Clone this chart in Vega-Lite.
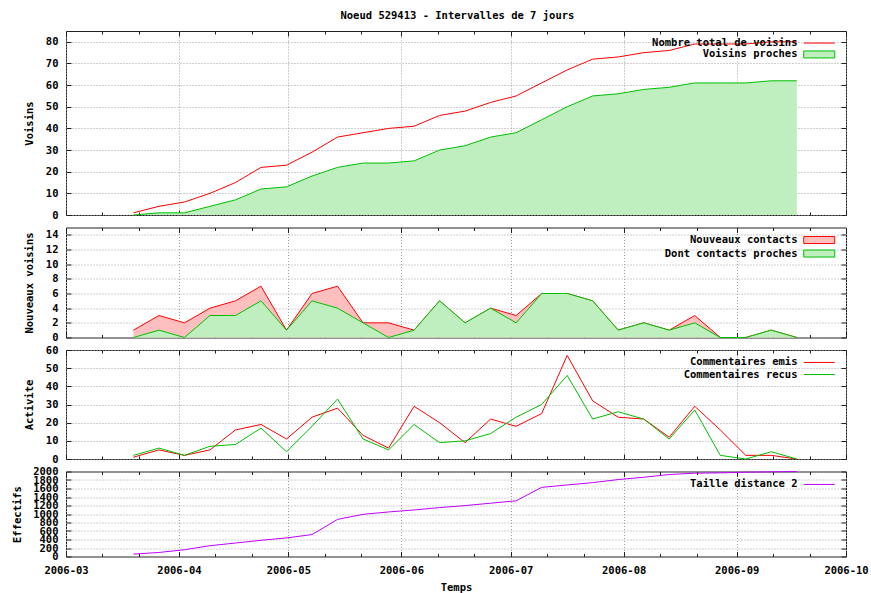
{
  "$schema": "https://vega.github.io/schema/vega-lite/v6.json",
  "padding": {"left": 12, "top": 10, "right": 24, "bottom": 0},
  "title": {"text": "Noeud 529413 - Intervalles de 7 jours", "font": "DejaVu Sans Mono", "fontSize": 10.5, "fontWeight": "bold", "color": "#000000", "anchor": "middle", "offset": 9, "dx": 17},
  "spacing": 12.5,
  "bounds": "flush",
  "resolve": {"scale": {"fill": "independent", "stroke": "independent", "y": "independent"}, "legend": {"fill": "independent", "stroke": "independent"}},
  "datasets": {
    "d": [
      {"d": "2006-03-19T12:00:00", "total": 1, "proches": 0, "nouv": 1, "nouvp": 0, "emis": 1, "recus": 2, "taille": 56},
      {"d": "2006-03-26T12:00:00", "total": 4, "proches": 1, "nouv": 3, "nouvp": 1, "emis": 5, "recus": 6, "taille": 95},
      {"d": "2006-04-02T12:00:00", "total": 6, "proches": 1, "nouv": 2, "nouvp": 0, "emis": 2, "recus": 2, "taille": 159},
      {"d": "2006-04-09T12:00:00", "total": 10, "proches": 4, "nouv": 4, "nouvp": 3, "emis": 5, "recus": 7, "taille": 254},
      {"d": "2006-04-16T12:00:00", "total": 15, "proches": 7, "nouv": 5, "nouvp": 3, "emis": 16, "recus": 8, "taille": 317},
      {"d": "2006-04-23T12:00:00", "total": 22, "proches": 12, "nouv": 7, "nouvp": 5, "emis": 19, "recus": 17, "taille": 381},
      {"d": "2006-04-30T12:00:00", "total": 23, "proches": 13, "nouv": 1, "nouvp": 1, "emis": 11, "recus": 4, "taille": 437},
      {"d": "2006-05-07T12:00:00", "total": 29, "proches": 18, "nouv": 6, "nouvp": 5, "emis": 23, "recus": 18, "taille": 516},
      {"d": "2006-05-14T12:00:00", "total": 36, "proches": 22, "nouv": 7, "nouvp": 4, "emis": 28, "recus": 33, "taille": 873},
      {"d": "2006-05-21T12:00:00", "total": 38, "proches": 24, "nouv": 2, "nouvp": 2, "emis": 13, "recus": 11, "taille": 992},
      {"d": "2006-05-28T12:00:00", "total": 40, "proches": 24, "nouv": 2, "nouvp": 0, "emis": 6, "recus": 5, "taille": 1048},
      {"d": "2006-06-04T12:00:00", "total": 41, "proches": 25, "nouv": 1, "nouvp": 1, "emis": 29, "recus": 19, "taille": 1095},
      {"d": "2006-06-11T12:00:00", "total": 46, "proches": 30, "nouv": 5, "nouvp": 5, "emis": 20, "recus": 9, "taille": 1151},
      {"d": "2006-06-18T12:00:00", "total": 48, "proches": 32, "nouv": 2, "nouvp": 2, "emis": 9, "recus": 10, "taille": 1198},
      {"d": "2006-06-25T12:00:00", "total": 52, "proches": 36, "nouv": 4, "nouvp": 4, "emis": 22, "recus": 14, "taille": 1254},
      {"d": "2006-07-02T12:00:00", "total": 55, "proches": 38, "nouv": 3, "nouvp": 2, "emis": 18, "recus": 23, "taille": 1310},
      {"d": "2006-07-09T12:00:00", "total": 61, "proches": 44, "nouv": 6, "nouvp": 6, "emis": 25, "recus": 30, "taille": 1627},
      {"d": "2006-07-16T12:00:00", "total": 67, "proches": 50, "nouv": 6, "nouvp": 6, "emis": 57, "recus": 46, "taille": 1683},
      {"d": "2006-07-23T12:00:00", "total": 72, "proches": 55, "nouv": 5, "nouvp": 5, "emis": 32, "recus": 22, "taille": 1738},
      {"d": "2006-07-30T12:00:00", "total": 73, "proches": 56, "nouv": 1, "nouvp": 1, "emis": 23, "recus": 26, "taille": 1810},
      {"d": "2006-08-06T12:00:00", "total": 75, "proches": 58, "nouv": 2, "nouvp": 2, "emis": 22, "recus": 22, "taille": 1865},
      {"d": "2006-08-13T12:00:00", "total": 76, "proches": 59, "nouv": 1, "nouvp": 1, "emis": 12, "recus": 11, "taille": 1929},
      {"d": "2006-08-20T12:00:00", "total": 79, "proches": 61, "nouv": 3, "nouvp": 2, "emis": 29, "recus": 27, "taille": 1960},
      {"d": "2006-08-27T12:00:00", "total": 79, "proches": 61, "nouv": 0, "nouvp": 0, "emis": 16, "recus": 2, "taille": 1968},
      {"d": "2006-09-03T12:00:00", "total": 79, "proches": 61, "nouv": 0, "nouvp": 0, "emis": 2, "recus": 0, "taille": 1984},
      {"d": "2006-09-10T12:00:00", "total": 80, "proches": 62, "nouv": 1, "nouvp": 1, "emis": 2, "recus": 4, "taille": 1992},
      {"d": "2006-09-17T12:00:00", "total": 80, "proches": 62, "nouv": 0, "nouvp": 0, "emis": 0, "recus": 0, "taille": 2000}
    ]
  },
  "config": {
    "view": {"stroke": "#202020", "strokeWidth": 1},
    "axis": {"labelFont": "DejaVu Sans Mono", "labelFontSize": 10.5, "labelFontWeight": "bold", "labelColor": "#000000", "titleFont": "DejaVu Sans Mono", "titleFontSize": 10.5, "titleFontWeight": "bold", "titleColor": "#000000", "tickColor": "#202020", "domain": false, "gridColor": "#a0a0a0", "gridDash": [1, 2], "gridWidth": 1, "labelFlush": false, "labelOverlap": false},
    "legend": {"orient": "none", "labelFont": "DejaVu Sans Mono", "labelFontSize": 10.5, "labelFontWeight": "bold", "labelColor": "#000000", "labelAlign": "right", "labelOffset": -28.25, "labelLimit": 400, "symbolSize": 132.25, "symbolOffset": 9.75, "rowPadding": 0, "padding": 0, "symbolStrokeWidth": 1},
    "line": {"strokeWidth": 1}
  },
  "vconcat": [
    {
      "width": 780, "height": 184,
      "data": {"name": "d"},
      "resolve": {"axis": {"x": "independent", "y": "independent"}},
      "layer": [
        {
          "mark": {"type": "area"},
          "encoding": {
            "x": {"field": "d", "type": "temporal", "scale": {"domain": [{"year": 2006, "month": 3, "date": 1}, {"year": 2006, "month": 10, "date": 1}], "nice": false},
              "axis": {"orient": "bottom", "title": null, "labels": false, "grid": true,
                "values": [{"year": 2006, "month": 3, "date": 1}, {"year": 2006, "month": 3, "date": 11}, {"year": 2006, "month": 3, "date": 21}, {"year": 2006, "month": 4, "date": 1}, {"year": 2006, "month": 4, "date": 11}, {"year": 2006, "month": 4, "date": 21}, {"year": 2006, "month": 5, "date": 1}, {"year": 2006, "month": 5, "date": 11}, {"year": 2006, "month": 5, "date": 21}, {"year": 2006, "month": 6, "date": 1}, {"year": 2006, "month": 6, "date": 11}, {"year": 2006, "month": 6, "date": 21}, {"year": 2006, "month": 7, "date": 1}, {"year": 2006, "month": 7, "date": 11}, {"year": 2006, "month": 7, "date": 21}, {"year": 2006, "month": 8, "date": 1}, {"year": 2006, "month": 8, "date": 11}, {"year": 2006, "month": 8, "date": 21}, {"year": 2006, "month": 9, "date": 1}, {"year": 2006, "month": 9, "date": 11}, {"year": 2006, "month": 9, "date": 21}, {"year": 2006, "month": 10, "date": 1}],
                "gridOpacity": {"condition": {"test": "date(datum.value) != 1", "value": 0}, "value": 1},
                "tickSize": {"condition": {"test": "date(datum.value) == 1", "value": -5}, "value": -3}}},
            "y": {"field": "proches", "type": "quantitative", "scale": {"domain": [0, 85], "nice": false},
              "axis": {"orient": "left", "title": "Voisins", "format": "d", "values": [0, 10, 20, 30, 40, 50, 60, 70, 80], "grid": true, "tickSize": -5, "labelPadding": 13, "titlePadding": 11}},
            "fill": {"datum": "Voisins proches", "scale": {"range": ["#bfefbf"]},
              "legend": {"title": null, "legendX": 737, "legendY": 16.95, "symbolType": "M-2.7,-0.61H2.7V0.61H-2.7Z", "symbolStrokeColor": "#00c000", "symbolStrokeWidth": 1}}
          }
        },
        {
          "mark": {"type": "line", "color": "#00c000"},
          "encoding": {
            "x": {"field": "d", "type": "temporal", "axis": null},
            "y": {"field": "proches", "type": "quantitative", "axis": null}
          }
        },
        {
          "mark": {"type": "line"},
          "encoding": {
            "x": {"field": "d", "type": "temporal", "axis": null},
            "y": {"field": "total", "type": "quantitative", "axis": null},
            "stroke": {"datum": "Nombre total de voisins", "scale": {"range": ["#ff0000"]},
              "legend": {"title": null, "legendX": 737, "legendY": 5.55, "symbolType": "M-2.7,0H2.7"}}
          }
        },
        {
          "mark": {"type": "point", "opacity": 0},
          "encoding": {
            "x": {"field": "d", "type": "temporal",
              "axis": {"orient": "top", "title": null, "labels": false, "grid": false,
                "values": [{"year": 2006, "month": 3, "date": 1}, {"year": 2006, "month": 3, "date": 11}, {"year": 2006, "month": 3, "date": 21}, {"year": 2006, "month": 4, "date": 1}, {"year": 2006, "month": 4, "date": 11}, {"year": 2006, "month": 4, "date": 21}, {"year": 2006, "month": 5, "date": 1}, {"year": 2006, "month": 5, "date": 11}, {"year": 2006, "month": 5, "date": 21}, {"year": 2006, "month": 6, "date": 1}, {"year": 2006, "month": 6, "date": 11}, {"year": 2006, "month": 6, "date": 21}, {"year": 2006, "month": 7, "date": 1}, {"year": 2006, "month": 7, "date": 11}, {"year": 2006, "month": 7, "date": 21}, {"year": 2006, "month": 8, "date": 1}, {"year": 2006, "month": 8, "date": 11}, {"year": 2006, "month": 8, "date": 21}, {"year": 2006, "month": 9, "date": 1}, {"year": 2006, "month": 9, "date": 11}, {"year": 2006, "month": 9, "date": 21}, {"year": 2006, "month": 10, "date": 1}],
                "tickSize": {"condition": {"test": "date(datum.value) == 1", "value": -5}, "value": -3}}},
            "y": {"field": "total", "type": "quantitative",
              "axis": {"orient": "right", "title": null, "labels": false, "grid": false, "values": [0, 10, 20, 30, 40, 50, 60, 70, 80], "tickSize": -5}}
          }
        }
      ]
    },
    {
      "width": 780, "height": 110,
      "data": {"name": "d"},
      "resolve": {"axis": {"x": "independent", "y": "independent"}},
      "layer": [
        {
          "mark": {"type": "area"},
          "encoding": {
            "x": {"field": "d", "type": "temporal", "scale": {"domain": [{"year": 2006, "month": 3, "date": 1}, {"year": 2006, "month": 10, "date": 1}], "nice": false},
              "axis": {"orient": "bottom", "title": null, "labels": false, "grid": true,
                "values": [{"year": 2006, "month": 3, "date": 1}, {"year": 2006, "month": 3, "date": 11}, {"year": 2006, "month": 3, "date": 21}, {"year": 2006, "month": 4, "date": 1}, {"year": 2006, "month": 4, "date": 11}, {"year": 2006, "month": 4, "date": 21}, {"year": 2006, "month": 5, "date": 1}, {"year": 2006, "month": 5, "date": 11}, {"year": 2006, "month": 5, "date": 21}, {"year": 2006, "month": 6, "date": 1}, {"year": 2006, "month": 6, "date": 11}, {"year": 2006, "month": 6, "date": 21}, {"year": 2006, "month": 7, "date": 1}, {"year": 2006, "month": 7, "date": 11}, {"year": 2006, "month": 7, "date": 21}, {"year": 2006, "month": 8, "date": 1}, {"year": 2006, "month": 8, "date": 11}, {"year": 2006, "month": 8, "date": 21}, {"year": 2006, "month": 9, "date": 1}, {"year": 2006, "month": 9, "date": 11}, {"year": 2006, "month": 9, "date": 21}, {"year": 2006, "month": 10, "date": 1}],
                "gridOpacity": {"condition": {"test": "date(datum.value) != 1", "value": 0}, "value": 1},
                "tickSize": {"condition": {"test": "date(datum.value) == 1", "value": -5}, "value": -3}}},
            "y": {"field": "nouv", "type": "quantitative", "scale": {"domain": [0, 15], "nice": false},
              "axis": {"orient": "left", "title": "Nouveaux voisins", "format": "d", "values": [0, 2, 4, 6, 8, 10, 12, 14], "grid": true, "tickSize": -5, "labelPadding": 13, "titlePadding": 11}},
            "fill": {"datum": "Nouveaux contacts", "scale": {"domain": ["Nouveaux contacts", "Dont contacts proches"], "range": ["#ffbfbf", "#bfefbf"]},
              "legend": {"title": null, "legendX": 737, "legendY": 6.05, "rowPadding": 0.5, "symbolType": "M-2.7,-0.61H2.7V0.61H-2.7Z", "symbolStrokeColor": {"expr": "datum.value == 'Nouveaux contacts' ? '#ff0000' : '#00c000'"}, "symbolStrokeWidth": 1}}
          }
        },
        {
          "mark": {"type": "line", "color": "#ff0000"},
          "encoding": {
            "x": {"field": "d", "type": "temporal", "axis": null},
            "y": {"field": "nouv", "type": "quantitative", "axis": null}
          }
        },
        {
          "mark": {"type": "area"},
          "encoding": {
            "x": {"field": "d", "type": "temporal", "axis": null},
            "y": {"field": "nouvp", "type": "quantitative", "axis": null},
            "fill": {"datum": "Dont contacts proches"}
          }
        },
        {
          "mark": {"type": "line", "color": "#00c000"},
          "encoding": {
            "x": {"field": "d", "type": "temporal", "axis": null},
            "y": {"field": "nouvp", "type": "quantitative", "axis": null}
          }
        },
        {
          "mark": {"type": "point", "opacity": 0},
          "encoding": {
            "x": {"field": "d", "type": "temporal",
              "axis": {"orient": "top", "title": null, "labels": false, "grid": false,
                "values": [{"year": 2006, "month": 3, "date": 1}, {"year": 2006, "month": 3, "date": 11}, {"year": 2006, "month": 3, "date": 21}, {"year": 2006, "month": 4, "date": 1}, {"year": 2006, "month": 4, "date": 11}, {"year": 2006, "month": 4, "date": 21}, {"year": 2006, "month": 5, "date": 1}, {"year": 2006, "month": 5, "date": 11}, {"year": 2006, "month": 5, "date": 21}, {"year": 2006, "month": 6, "date": 1}, {"year": 2006, "month": 6, "date": 11}, {"year": 2006, "month": 6, "date": 21}, {"year": 2006, "month": 7, "date": 1}, {"year": 2006, "month": 7, "date": 11}, {"year": 2006, "month": 7, "date": 21}, {"year": 2006, "month": 8, "date": 1}, {"year": 2006, "month": 8, "date": 11}, {"year": 2006, "month": 8, "date": 21}, {"year": 2006, "month": 9, "date": 1}, {"year": 2006, "month": 9, "date": 11}, {"year": 2006, "month": 9, "date": 21}, {"year": 2006, "month": 10, "date": 1}],
                "tickSize": {"condition": {"test": "date(datum.value) == 1", "value": -5}, "value": -3}}},
            "y": {"field": "nouv", "type": "quantitative",
              "axis": {"orient": "right", "title": null, "labels": false, "grid": false, "values": [0, 2, 4, 6, 8, 10, 12, 14], "tickSize": -5}}
          }
        }
      ]
    },
    {
      "width": 780, "height": 109,
      "data": {"name": "d"},
      "resolve": {"axis": {"x": "independent", "y": "independent"}},
      "layer": [
        {
          "mark": {"type": "line"},
          "encoding": {
            "x": {"field": "d", "type": "temporal", "scale": {"domain": [{"year": 2006, "month": 3, "date": 1}, {"year": 2006, "month": 10, "date": 1}], "nice": false},
              "axis": {"orient": "bottom", "title": null, "labels": false, "grid": true,
                "values": [{"year": 2006, "month": 3, "date": 1}, {"year": 2006, "month": 3, "date": 11}, {"year": 2006, "month": 3, "date": 21}, {"year": 2006, "month": 4, "date": 1}, {"year": 2006, "month": 4, "date": 11}, {"year": 2006, "month": 4, "date": 21}, {"year": 2006, "month": 5, "date": 1}, {"year": 2006, "month": 5, "date": 11}, {"year": 2006, "month": 5, "date": 21}, {"year": 2006, "month": 6, "date": 1}, {"year": 2006, "month": 6, "date": 11}, {"year": 2006, "month": 6, "date": 21}, {"year": 2006, "month": 7, "date": 1}, {"year": 2006, "month": 7, "date": 11}, {"year": 2006, "month": 7, "date": 21}, {"year": 2006, "month": 8, "date": 1}, {"year": 2006, "month": 8, "date": 11}, {"year": 2006, "month": 8, "date": 21}, {"year": 2006, "month": 9, "date": 1}, {"year": 2006, "month": 9, "date": 11}, {"year": 2006, "month": 9, "date": 21}, {"year": 2006, "month": 10, "date": 1}],
                "gridOpacity": {"condition": {"test": "date(datum.value) != 1", "value": 0}, "value": 1},
                "tickSize": {"condition": {"test": "date(datum.value) == 1", "value": -5}, "value": -3}}},
            "y": {"field": "emis", "type": "quantitative", "scale": {"domain": [0, 60], "nice": false},
              "axis": {"orient": "left", "title": "Activite", "format": "d", "values": [0, 10, 20, 30, 40, 50, 60], "grid": true, "tickSize": -5, "labelPadding": 13, "titlePadding": 11}},
            "stroke": {"datum": "Commentaires emis", "scale": {"domain": ["Commentaires emis", "Commentaires recus"], "range": ["#ff0000", "#00c000"]},
              "legend": {"title": null, "legendX": 737, "legendY": 5.95, "rowPadding": 0.1, "symbolType": "M-2.7,0H2.7"}}
          }
        },
        {
          "mark": {"type": "line"},
          "encoding": {
            "x": {"field": "d", "type": "temporal", "axis": null},
            "y": {"field": "recus", "type": "quantitative", "axis": null},
            "stroke": {"datum": "Commentaires recus"}
          }
        },
        {
          "mark": {"type": "point", "opacity": 0},
          "encoding": {
            "x": {"field": "d", "type": "temporal",
              "axis": {"orient": "top", "title": null, "labels": false, "grid": false,
                "values": [{"year": 2006, "month": 3, "date": 1}, {"year": 2006, "month": 3, "date": 11}, {"year": 2006, "month": 3, "date": 21}, {"year": 2006, "month": 4, "date": 1}, {"year": 2006, "month": 4, "date": 11}, {"year": 2006, "month": 4, "date": 21}, {"year": 2006, "month": 5, "date": 1}, {"year": 2006, "month": 5, "date": 11}, {"year": 2006, "month": 5, "date": 21}, {"year": 2006, "month": 6, "date": 1}, {"year": 2006, "month": 6, "date": 11}, {"year": 2006, "month": 6, "date": 21}, {"year": 2006, "month": 7, "date": 1}, {"year": 2006, "month": 7, "date": 11}, {"year": 2006, "month": 7, "date": 21}, {"year": 2006, "month": 8, "date": 1}, {"year": 2006, "month": 8, "date": 11}, {"year": 2006, "month": 8, "date": 21}, {"year": 2006, "month": 9, "date": 1}, {"year": 2006, "month": 9, "date": 11}, {"year": 2006, "month": 9, "date": 21}, {"year": 2006, "month": 10, "date": 1}],
                "tickSize": {"condition": {"test": "date(datum.value) == 1", "value": -5}, "value": -3}}},
            "y": {"field": "emis", "type": "quantitative",
              "axis": {"orient": "right", "title": null, "labels": false, "grid": false, "values": [0, 10, 20, 30, 40, 50, 60], "tickSize": -5}}
          }
        }
      ]
    },
    {
      "width": 780, "height": 85,
      "data": {"name": "d"},
      "resolve": {"axis": {"x": "independent", "y": "independent"}},
      "layer": [
        {
          "mark": {"type": "line"},
          "encoding": {
            "x": {"field": "d", "type": "temporal", "scale": {"domain": [{"year": 2006, "month": 3, "date": 1}, {"year": 2006, "month": 10, "date": 1}], "nice": false},
              "axis": {"orient": "bottom", "title": "Temps", "labels": true, "grid": true, "titlePadding": 4, "labelPadding": 14,
                "labelExpr": "date(datum.value) == 1 ? timeFormat(datum.value, '%Y-%m') : ''",
                "values": [{"year": 2006, "month": 3, "date": 1}, {"year": 2006, "month": 3, "date": 11}, {"year": 2006, "month": 3, "date": 21}, {"year": 2006, "month": 4, "date": 1}, {"year": 2006, "month": 4, "date": 11}, {"year": 2006, "month": 4, "date": 21}, {"year": 2006, "month": 5, "date": 1}, {"year": 2006, "month": 5, "date": 11}, {"year": 2006, "month": 5, "date": 21}, {"year": 2006, "month": 6, "date": 1}, {"year": 2006, "month": 6, "date": 11}, {"year": 2006, "month": 6, "date": 21}, {"year": 2006, "month": 7, "date": 1}, {"year": 2006, "month": 7, "date": 11}, {"year": 2006, "month": 7, "date": 21}, {"year": 2006, "month": 8, "date": 1}, {"year": 2006, "month": 8, "date": 11}, {"year": 2006, "month": 8, "date": 21}, {"year": 2006, "month": 9, "date": 1}, {"year": 2006, "month": 9, "date": 11}, {"year": 2006, "month": 9, "date": 21}, {"year": 2006, "month": 10, "date": 1}],
                "gridOpacity": {"condition": {"test": "date(datum.value) != 1", "value": 0}, "value": 1},
                "tickSize": {"condition": {"test": "date(datum.value) == 1", "value": -5}, "value": -3}}},
            "y": {"field": "taille", "type": "quantitative", "scale": {"domain": [0, 2000], "nice": false},
              "axis": {"orient": "left", "title": "Effectifs", "format": "d", "values": [0, 200, 400, 600, 800, 1000, 1200, 1400, 1600, 1800, 2000], "grid": true, "tickSize": -5, "labelPadding": 13, "titlePadding": 10}},
            "stroke": {"datum": "Taille distance 2", "scale": {"range": ["#c000ff"]},
              "legend": {"title": null, "legendX": 737, "legendY": 6.45, "symbolType": "M-2.7,0H2.7"}}
          }
        },
        {
          "mark": {"type": "point", "opacity": 0},
          "encoding": {
            "x": {"field": "d", "type": "temporal",
              "axis": {"orient": "top", "title": null, "labels": false, "grid": false,
                "values": [{"year": 2006, "month": 3, "date": 1}, {"year": 2006, "month": 3, "date": 11}, {"year": 2006, "month": 3, "date": 21}, {"year": 2006, "month": 4, "date": 1}, {"year": 2006, "month": 4, "date": 11}, {"year": 2006, "month": 4, "date": 21}, {"year": 2006, "month": 5, "date": 1}, {"year": 2006, "month": 5, "date": 11}, {"year": 2006, "month": 5, "date": 21}, {"year": 2006, "month": 6, "date": 1}, {"year": 2006, "month": 6, "date": 11}, {"year": 2006, "month": 6, "date": 21}, {"year": 2006, "month": 7, "date": 1}, {"year": 2006, "month": 7, "date": 11}, {"year": 2006, "month": 7, "date": 21}, {"year": 2006, "month": 8, "date": 1}, {"year": 2006, "month": 8, "date": 11}, {"year": 2006, "month": 8, "date": 21}, {"year": 2006, "month": 9, "date": 1}, {"year": 2006, "month": 9, "date": 11}, {"year": 2006, "month": 9, "date": 21}, {"year": 2006, "month": 10, "date": 1}],
                "tickSize": {"condition": {"test": "date(datum.value) == 1", "value": -5}, "value": -3}}},
            "y": {"field": "taille", "type": "quantitative",
              "axis": {"orient": "right", "title": null, "labels": false, "grid": false, "values": [0, 200, 400, 600, 800, 1000, 1200, 1400, 1600, 1800, 2000], "tickSize": -5}}
          }
        }
      ]
    }
  ]
}
